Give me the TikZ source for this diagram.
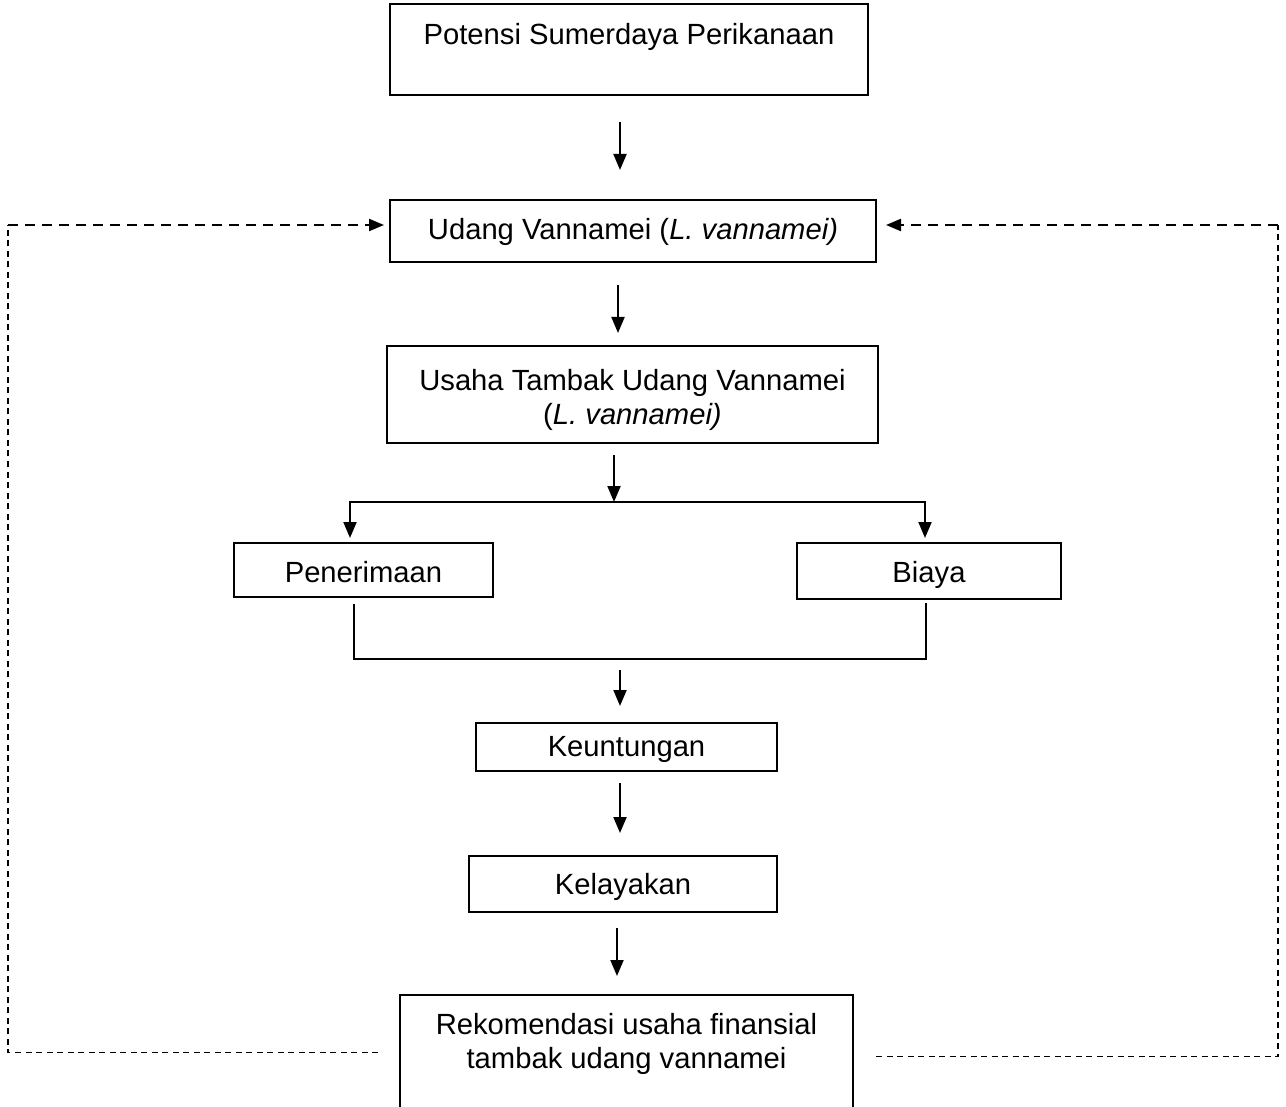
\documentclass[tikz,border=0pt]{standalone}
\usepackage{fontspec}
\setmainfont{Liberation Sans}
\usetikzlibrary{arrows.meta}
\begin{document}
\begin{tikzpicture}[x=1pt,y=-1pt,
  box/.style={draw, line width=1.6pt, inner sep=0pt},
  txt/.style={inner sep=0pt, align=center, font=\fontsize{29.2}{34.5}\selectfont},
  btx/.style={txt, anchor=base},
  arr/.style={line width=2pt, -{Triangle[length=16pt,width=13pt]}},
  ln/.style={line width=2pt},
  dthick/.style={line width=2.2pt, dash pattern=on 10pt off 7pt, -{Triangle[length=15pt,width=12pt]}},
  dthin/.style={line width=1.1pt, dash pattern=on 6pt off 4.5pt}
]
\useasboundingbox (0,0) rectangle (1286,1107);

% boxes
\node[box, minimum width=478, minimum height=91] (b1) at (629,49.5) {};
\node[btx] (t1) at (629,45) {Potensi Sumerdaya Perikanaan};

\node[box, minimum width=486, minimum height=62] (b2) at (633,231) {};
\node[btx] (t2) at (633,240) {Udang Vannamei (\textit{L. vannamei)}};

\node[box, minimum width=491, minimum height=97] (b3) at (632.5,394.5) {};
\node[txt] (t3) at (632.5,400) {Usaha Tambak Udang Vannamei\\(\textit{L. vannamei)}};

\node[box, minimum width=259, minimum height=54] (pen) at (363.5,570) {};
\node[btx] (t4) at (363.5,582) {Penerimaan};
\node[box, minimum width=264, minimum height=56] (bia) at (929,571) {};
\node[btx] (t5) at (929,582.5) {Biaya};

\node[box, minimum width=301, minimum height=48] (keu) at (626.5,747) {};
\node[btx] (t6) at (626.5,756) {Keuntungan};
\node[box, minimum width=308, minimum height=56] (kel) at (623,884) {};
\node[btx] (t7) at (623,894.5) {Kelayakan};

\node[box, minimum width=453, minimum height=130] (rek) at (626.5,1060) {};
\node[txt] (t8) at (626.5,1044) {Rekomendasi usaha finansial\\tambak udang vannamei};

% vertical arrows
\coordinate (a1s) at (620,122); \coordinate (a1e) at (620,170);
\draw[arr] (a1s) -- (a1e);
\coordinate (a2s) at (618,285); \coordinate (a2e) at (618,333);
\draw[arr] (a2s) -- (a2e);
\coordinate (a3s) at (614,455); \coordinate (jm) at (614,502);
\draw[arr] (a3s) -- (jm);
\coordinate (pl) at (350,538); \coordinate (pr) at (925,538);
\draw[arr] (jm) -| (pl);
\draw[arr] (jm) -| (pr);

% merge
\coordinate (m1) at (354,604); \coordinate (m2) at (926,603);
\coordinate (m3) at (354,659);
\draw[ln] (m1) -- (m3) -| (m2);

\coordinate (a4s) at (620,670); \coordinate (a4e) at (620,706);
\draw[arr] (a4s) -- (a4e);
\coordinate (a5s) at (620,783); \coordinate (a5e) at (620,833);
\draw[arr] (a5s) -- (a5e);
\coordinate (a6s) at (617,928); \coordinate (a6e) at (617,976);
\draw[arr] (a6s) -- (a6e);

% dashed feedback
\coordinate (lb) at (378,1052.5); \coordinate (lc) at (8,1052.5);
\coordinate (lt) at (8,225); \coordinate (la) at (384,225);
\draw[dthin] (lb) -- (lc) -- (lt);
\draw[dthick] (lt) -- (la);

\coordinate (rb) at (876,1056.5); \coordinate (rc) at (1278,1056.5);
\coordinate (rt) at (1278,225); \coordinate (ra) at (886,225);
\draw[dthin] (rb) -- (rc) -- (rt);
\draw[dthick] (rt) -- (ra);
\end{tikzpicture}
\end{document}
